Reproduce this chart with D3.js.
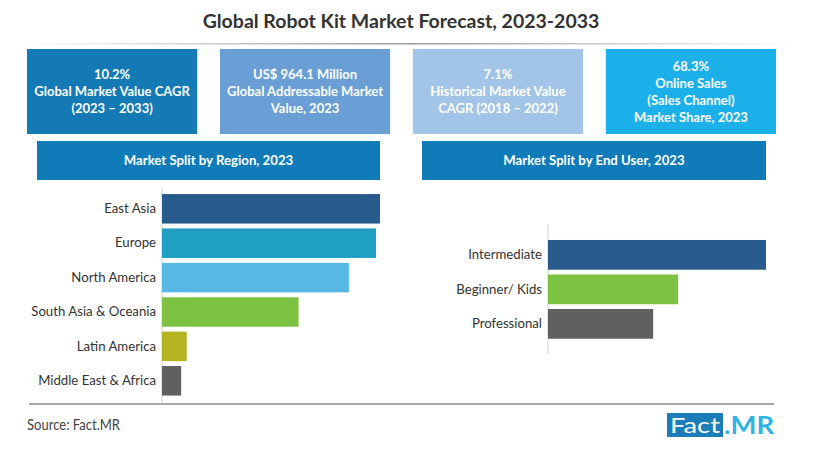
<!DOCTYPE html>
<html>
<head>
<meta charset="utf-8">
<script src="https://cdn.jsdelivr.net/npm/d3@7"></script>
<style>
  html, body { margin: 0; padding: 0; background: #fff; }
  svg { display: block; font-family: Lato, "Open Sans", sans-serif; }
</style>
</head>
<body>
<svg id="chart" width="822" height="465"></svg>
<script>
// ---- Data ----
const title = "Global Robot Kit Market Forecast, 2023-2033";
const kpiLines = [
  ["10.2%", "Global Market Value CAGR", "(2023 – 2033)"],
  ["US$ 964.1 Million", "Global Addressable Market", "Value, 2023"],
  ["7.1%", "Historical Market Value", "CAGR (2018 – 2022)"],
  ["68.3%", "Online Sales", "(Sales Channel)", "Market Share, 2023"]
];
const kpiColors = ["#137ab5", "#6a9fd6", "#a2c4e6", "#1cb0ea"];

const regionTitle = "Market Split by Region, 2023";
const regions = ["East Asia", "Europe", "North America", "South Asia & Oceania", "Latin America", "Middle East & Africa"];
const regionShare = [27.3, 26.8, 23.4, 17.1, 3.1, 2.4];
const regionColors = ["#285b8c", "#209fc4", "#57b8e6", "#7dc242", "#b4b520", "#606060"];

const userTitle = "Market Split by End User, 2023";
const users = ["Intermediate", "Beginner/ Kids", "Professional"];
const userShare = [48.1, 28.7, 23.2];
const userColors = ["#285b8c", "#7dc242", "#606060"];

const sourceText = "Source: Fact.MR";

// ---- Drawing ----
const svg = d3.select("#chart");

const defs = svg.append("defs");
const grad = defs.append("linearGradient").attr("id", "rule").attr("x1", "0").attr("x2", "1");
grad.append("stop").attr("offset", "0").attr("stop-color", "#ffffff");
grad.append("stop").attr("offset", "0.5").attr("stop-color", "#9a9a9a");
grad.append("stop").attr("offset", "1").attr("stop-color", "#ffffff");

svg.append("text")
  .attr("x", 401).attr("y", 28)
  .attr("text-anchor", "middle")
  .attr("font-size", 19.5).attr("font-weight", 700)
  .attr("fill", "#333")
  .text(title);

svg.append("rect").attr("x", 20).attr("y", 43).attr("width", 780).attr("height", 1.5).attr("fill", "url(#rule)");

// KPI boxes
const kpiX = d3.scaleBand().domain(d3.range(kpiLines.length)).range([27, 776]).paddingInner(0.118);
const kpi = svg.selectAll("g.kpi").data(kpiLines).join("g").attr("class", "kpi")
  .attr("transform", (d, i) => `translate(${kpiX(i)},49)`);
kpi.append("rect").attr("width", kpiX.bandwidth()).attr("height", 85).attr("fill", (d, i) => kpiColors[i]);
kpi.each(function(lines) {
  const g = d3.select(this);
  const lh = 17;
  const start = 42.5 - (lines.length - 1) * lh / 2;
  g.selectAll("text").data(lines).join("text")
    .attr("x", kpiX.bandwidth() / 2)
    .attr("y", (d, j) => start + j * lh)
    .attr("dy", "0.35em")
    .attr("text-anchor", "middle")
    .attr("fill", "#fff")
    .attr("font-size", 13).attr("font-weight", 700)
    .text(d => d);
});

// Section headers
function header(x0, x1, text) {
  svg.append("rect").attr("x", x0).attr("y", 141).attr("width", x1 - x0).attr("height", 39).attr("fill", "#0f7bb8");
  svg.append("text").attr("x", (x0 + x1) / 2).attr("y", 160.5).attr("dy", "0.35em")
    .attr("text-anchor", "middle").attr("fill", "#fff")
    .attr("font-size", 13.2).attr("font-weight", 700).text(text);
}
header(37, 380, regionTitle);
header(422, 766, userTitle);

// Region bars
const xR = d3.scaleLinear().domain([0, d3.max(regionShare)]).range([162, 380]);
const yR = d3.scaleBand().domain(regions).range([191.6, 398]).paddingInner(0.142).paddingOuter(0.071);
svg.append("line").attr("x1", 162).attr("x2", 162).attr("y1", 188).attr("y2", 404).attr("stroke", "#cfcfcf").attr("stroke-width", 1);
svg.selectAll("rect.rbar").data(regions).join("rect").attr("class", "rbar")
  .attr("x", xR(0)).attr("y", d => yR(d))
  .attr("width", (d, i) => xR(regionShare[i]) - xR(0))
  .attr("height", yR.bandwidth())
  .attr("fill", (d, i) => regionColors[i]);
svg.append("g").attr("transform", "translate(162,0)")
  .call(d3.axisLeft(yR).tickSize(0).tickPadding(6))
  .call(g => g.select(".domain").remove())
  .call(g => g.selectAll("text").attr("font-size", 13.2).attr("fill", "#333").attr("font-family", "Lato, sans-serif"));

// End user bars
const xU = d3.scaleLinear().domain([0, d3.max(userShare)]).range([548, 766]);
const yU = d3.scaleBand().domain(users).range([237.6, 341.1]).paddingInner(0.138).paddingOuter(0.069);
svg.append("line").attr("x1", 548).attr("x2", 548).attr("y1", 224).attr("y2", 354).attr("stroke", "#cfcfcf").attr("stroke-width", 1);
svg.selectAll("rect.ubar").data(users).join("rect").attr("class", "ubar")
  .attr("x", xU(0)).attr("y", d => yU(d))
  .attr("width", (d, i) => xU(userShare[i]) - xU(0))
  .attr("height", yU.bandwidth())
  .attr("fill", (d, i) => userColors[i]);
svg.append("g").attr("transform", "translate(548,0)")
  .call(d3.axisLeft(yU).tickSize(0).tickPadding(6))
  .call(g => g.select(".domain").remove())
  .call(g => g.selectAll("text").attr("font-size", 13.2).attr("fill", "#333").attr("font-family", "Lato, sans-serif"));

// Bottom rule
svg.append("rect").attr("x", 29).attr("y", 403).attr("width", 745).attr("height", 2).attr("fill", "#a8a8a8");

// Source
svg.append("text").attr("x", 27).attr("y", 430).attr("font-size", 14.5).attr("fill", "#444")
  .attr("textLength", 93).attr("lengthAdjust", "spacingAndGlyphs").text(sourceText);

// Logo
svg.append("rect").attr("x", 667).attr("y", 413).attr("width", 56).attr("height", 24).attr("fill", "#1a7db8");
svg.append("text").attr("x", 695).attr("y", 433).attr("text-anchor", "middle")
  .attr("font-size", 22).attr("fill", "#fff")
  .attr("textLength", 50).attr("lengthAdjust", "spacingAndGlyphs").text("Fact");
svg.append("text").attr("x", 724).attr("y", 434)
  .attr("font-size", 24).attr("font-weight", 700).attr("fill", "#2db3e8")
  .attr("textLength", 50).attr("lengthAdjust", "spacingAndGlyphs").text(".MR");
</script>
</body>
</html>
